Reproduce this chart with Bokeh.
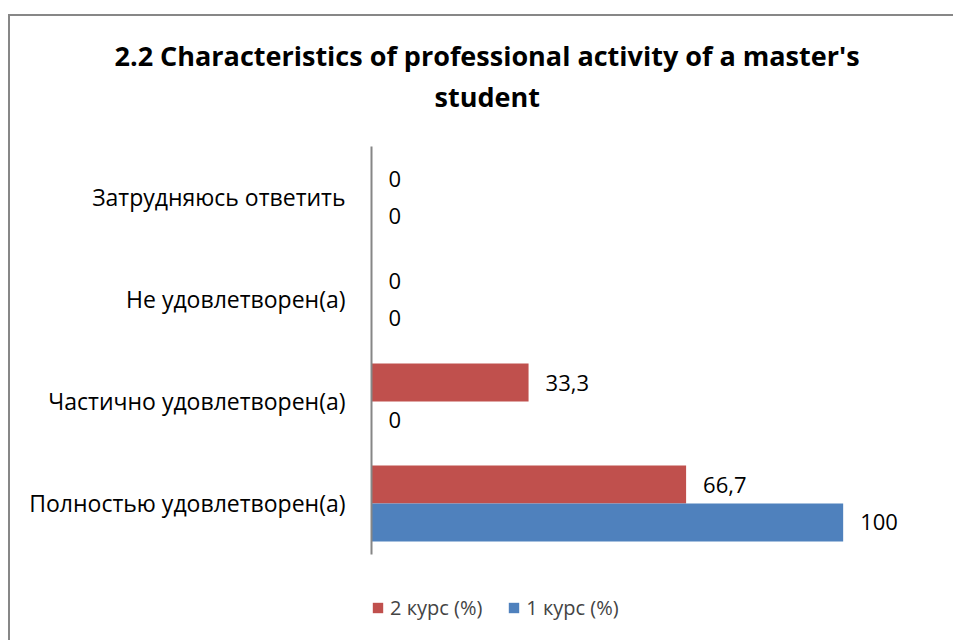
from bokeh.plotting import figure
from bokeh.models import (ColumnDataSource, Legend, LegendItem, Title, Range1d,
                          FixedTicker)
from bokeh.core.properties import value
from bokeh.embed import file_html
from bokeh.resources import INLINE

categories = ["Полностью удовлетворен(а)", "Частично удовлетворен(а)",
              "Не удовлетворен(а)", "Затрудняюсь ответить"]
course1 = [100, 0, 0, 0]
course2 = [66.7, 33.3, 0, 0]
series_names = ["2 курс (%)", "1 курс (%)"]
title_lines = ["2.2 Characteristics of professional activity of a master's", "student"]

def fmt(v):
    s = ("%.1f" % v).rstrip("0").rstrip(".")
    return s.replace(".", ",")

pos = [i + 0.5 for i in range(len(categories))]
GAP = 0.1862
src = ColumnDataSource(dict(
    y1=[q - GAP for q in pos], y2=[q + GAP for q in pos],
    c1=course1, c2=course2,
    l1=[fmt(v) for v in course1], l2=[fmt(v) for v in course2],
))

FONT = "Open Sans"
RED = "#C0504D"
BLUE = "#4F81BD"

p = figure(width=945, height=626, y_range=Range1d(-0.804, len(categories)),
           x_range=Range1d(0, 120), output_backend="svg", toolbar_location=None,
           min_border_left=361, min_border_right=18, min_border_top=130, min_border_bottom=6,
           outline_line_color=None, margin=(14, 0, 0, 8))
p.styles = {"border-top": "2px solid #878787", "border-left": "2px solid #878787"}

bh = 0.3725
r2 = p.hbar(y="y2", right="c2", height=bh, source=src, fill_color=RED, line_color=None)
r1 = p.hbar(y="y1", right="c1", height=bh, source=src, fill_color=BLUE, line_color=None)

p.text(x="c2", y="y2", text="l2", source=src,
       x_offset=17, text_baseline="middle", text_font_size="22px",
       text_font=value(FONT), text_color="black")
p.text(x="c1", y="y1", text="l1", source=src,
       x_offset=17, text_baseline="middle", text_font_size="22px",
       text_font=value(FONT), text_color="black")

p.xaxis.visible = False
p.xgrid.visible = False
p.ygrid.visible = False
ax = p.yaxis[0]
ax.ticker = FixedTicker(ticks=pos, minor_ticks=[])
ax.major_label_overrides = {q: c for q, c in zip(pos, categories)}
ax.bounds = (0, len(categories))
ax.axis_line_color = "#868686"
ax.axis_line_width = 2
ax.major_tick_line_color = None
ax.minor_tick_line_color = None
ax.major_label_text_font = FONT
ax.major_label_text_font_size = "23px"
ax.major_label_text_color = "black"
ax.major_label_standoff = 20

spacer = Title(text=" ", text_font_size="1px", standoff=28)
t2 = Title(text=title_lines[1], align="left", offset=63, standoff=2,
           text_font=FONT, text_font_size="27px", text_font_style="bold", text_color="black")
t1 = Title(text=title_lines[0], align="left", offset=-257, standoff=2,
           text_font=FONT, text_font_size="27px", text_font_style="bold", text_color="black")
p.add_layout(spacer, "above")
p.add_layout(t2, "above")
p.add_layout(t1, "above")

legend = Legend(items=[LegendItem(label=series_names[0], renderers=[r2]),
                       LegendItem(label=series_names[1], renderers=[r1])],
                orientation="horizontal", location=(0, 15),
                label_text_font=FONT, label_text_font_size="20px",
                glyph_width=13, glyph_height=13, spacing=25, label_standoff=6,
                padding=0, margin=0,
                border_line_color=None, background_fill_alpha=0)
p.add_layout(legend, "center")

open("out.html", "w").write(file_html(p, INLINE))
